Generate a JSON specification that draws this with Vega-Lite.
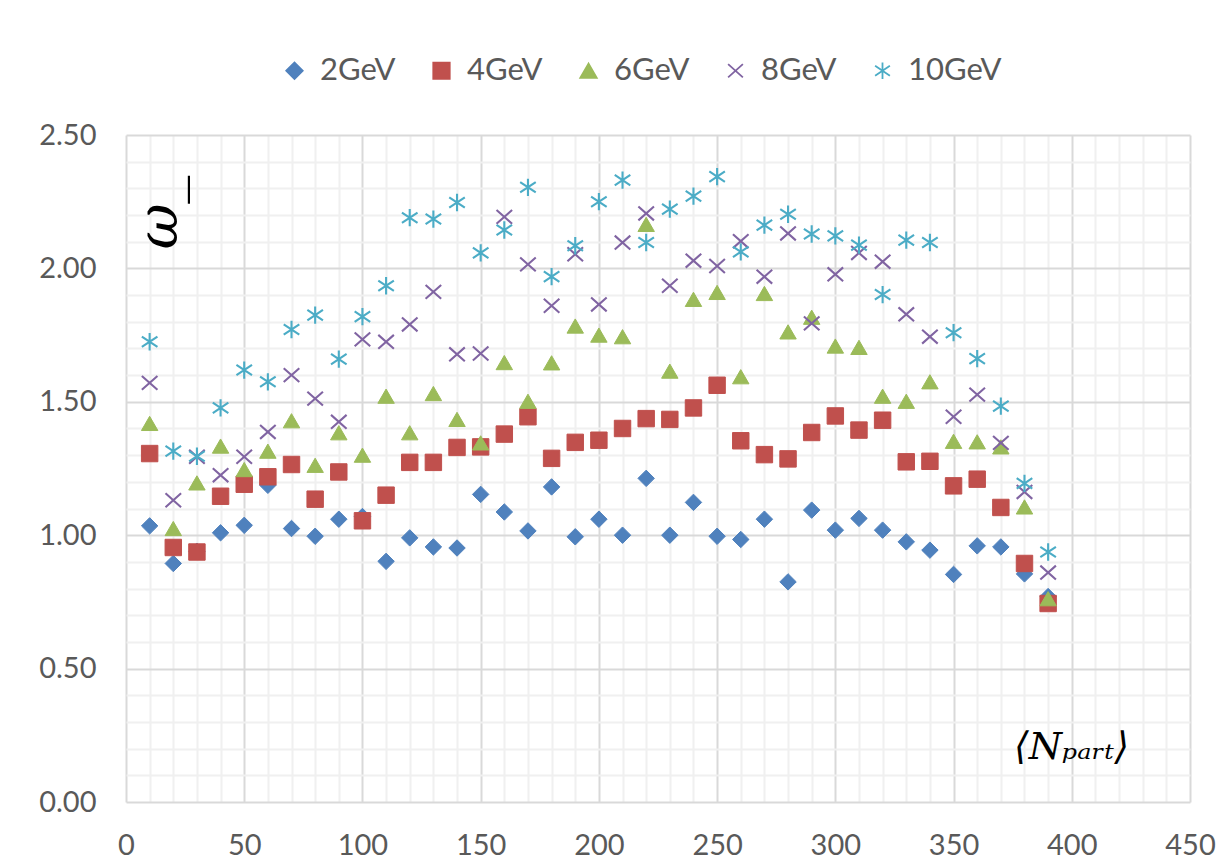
{
  "$schema": "https://vega.github.io/schema/vega-lite/v6.json",
  "width": 1064,
  "height": 667,
  "autosize": "none",
  "padding": {"left": 126, "top": 135, "right": 41, "bottom": 64},
  "background": "white",
  "config": {"view": {"stroke": null}, "font": "Lato"},
  "data": {
    "values": [
      {"n": 10, "2GeV": 1.035, "4GeV": 1.306, "6GeV": 1.419, "8GeV": 1.571, "10GeV": 1.725},
      {"n": 20, "2GeV": 0.894, "4GeV": 0.954, "6GeV": 1.025, "8GeV": 1.131, "10GeV": 1.315},
      {"n": 30, "2GeV": 0.94, "4GeV": 0.937, "6GeV": 1.196, "8GeV": 1.294, "10GeV": 1.296},
      {"n": 40, "2GeV": 1.009, "4GeV": 1.146, "6GeV": 1.334, "8GeV": 1.225, "10GeV": 1.477},
      {"n": 50, "2GeV": 1.037, "4GeV": 1.191, "6GeV": 1.246, "8GeV": 1.294, "10GeV": 1.619},
      {"n": 60, "2GeV": 1.187, "4GeV": 1.219, "6GeV": 1.315, "8GeV": 1.387, "10GeV": 1.575},
      {"n": 70, "2GeV": 1.025, "4GeV": 1.265, "6GeV": 1.429, "8GeV": 1.6, "10GeV": 1.771},
      {"n": 80, "2GeV": 0.996, "4GeV": 1.135, "6GeV": 1.262, "8GeV": 1.512, "10GeV": 1.825},
      {"n": 90, "2GeV": 1.06, "4GeV": 1.237, "6GeV": 1.384, "8GeV": 1.425, "10GeV": 1.66},
      {"n": 100, "2GeV": 1.07, "4GeV": 1.054, "6GeV": 1.3, "8GeV": 1.734, "10GeV": 1.819},
      {"n": 110, "2GeV": 0.902, "4GeV": 1.15, "6GeV": 1.521, "8GeV": 1.725, "10GeV": 1.935},
      {"n": 120, "2GeV": 0.99, "4GeV": 1.273, "6GeV": 1.384, "8GeV": 1.79, "10GeV": 2.19},
      {"n": 130, "2GeV": 0.956, "4GeV": 1.273, "6GeV": 1.531, "8GeV": 1.912, "10GeV": 2.185},
      {"n": 140, "2GeV": 0.952, "4GeV": 1.329, "6GeV": 1.434, "8GeV": 1.678, "10GeV": 2.247},
      {"n": 150, "2GeV": 1.153, "4GeV": 1.331, "6GeV": 1.346, "8GeV": 1.681, "10GeV": 2.058},
      {"n": 160, "2GeV": 1.087, "4GeV": 1.379, "6GeV": 1.647, "8GeV": 2.193, "10GeV": 2.144},
      {"n": 170, "2GeV": 1.016, "4GeV": 1.444, "6GeV": 1.502, "8GeV": 2.015, "10GeV": 2.304},
      {"n": 180, "2GeV": 1.181, "4GeV": 1.288, "6GeV": 1.646, "8GeV": 1.86, "10GeV": 1.969},
      {"n": 190, "2GeV": 0.994, "4GeV": 1.348, "6GeV": 1.784, "8GeV": 2.053, "10GeV": 2.085},
      {"n": 200, "2GeV": 1.06, "4GeV": 1.356, "6GeV": 1.75, "8GeV": 1.865, "10GeV": 2.25},
      {"n": 210, "2GeV": 1.0, "4GeV": 1.4, "6GeV": 1.744, "8GeV": 2.097, "10GeV": 2.331},
      {"n": 220, "2GeV": 1.213, "4GeV": 1.437, "6GeV": 2.165, "8GeV": 2.206, "10GeV": 2.097},
      {"n": 230, "2GeV": 1.0, "4GeV": 1.434, "6GeV": 1.615, "8GeV": 1.935, "10GeV": 2.222},
      {"n": 240, "2GeV": 1.123, "4GeV": 1.477, "6GeV": 1.884, "8GeV": 2.029, "10GeV": 2.271},
      {"n": 250, "2GeV": 0.996, "4GeV": 1.562, "6GeV": 1.91, "8GeV": 2.009, "10GeV": 2.344},
      {"n": 260, "2GeV": 0.984, "4GeV": 1.354, "6GeV": 1.594, "8GeV": 2.102, "10GeV": 2.062},
      {"n": 270, "2GeV": 1.06, "4GeV": 1.302, "6GeV": 1.906, "8GeV": 1.969, "10GeV": 2.162},
      {"n": 280, "2GeV": 0.825, "4GeV": 1.286, "6GeV": 1.762, "8GeV": 2.131, "10GeV": 2.203},
      {"n": 290, "2GeV": 1.094, "4GeV": 1.385, "6GeV": 1.817, "8GeV": 1.794, "10GeV": 2.129},
      {"n": 300, "2GeV": 1.019, "4GeV": 1.447, "6GeV": 1.709, "8GeV": 1.978, "10GeV": 2.122},
      {"n": 310, "2GeV": 1.063, "4GeV": 1.394, "6GeV": 1.704, "8GeV": 2.058, "10GeV": 2.087},
      {"n": 320, "2GeV": 1.019, "4GeV": 1.431, "6GeV": 1.521, "8GeV": 2.025, "10GeV": 1.902},
      {"n": 330, "2GeV": 0.975, "4GeV": 1.275, "6GeV": 1.502, "8GeV": 1.828, "10GeV": 2.106},
      {"n": 340, "2GeV": 0.944, "4GeV": 1.277, "6GeV": 1.575, "8GeV": 1.744, "10GeV": 2.097},
      {"n": 350, "2GeV": 0.853, "4GeV": 1.185, "6GeV": 1.352, "8GeV": 1.444, "10GeV": 1.759},
      {"n": 360, "2GeV": 0.96, "4GeV": 1.21, "6GeV": 1.35, "8GeV": 1.527, "10GeV": 1.662},
      {"n": 370, "2GeV": 0.956, "4GeV": 1.104, "6GeV": 1.331, "8GeV": 1.346, "10GeV": 1.484},
      {"n": 380, "2GeV": 0.855, "4GeV": 0.894, "6GeV": 1.106, "8GeV": 1.162, "10GeV": 1.194},
      {"n": 390, "2GeV": 0.77, "4GeV": 0.744, "6GeV": 0.762, "8GeV": 0.86, "10GeV": 0.937}
    ]
  },
  "transform": [
    {"fold": ["2GeV", "4GeV", "6GeV", "8GeV", "10GeV"], "as": ["series", "w"]}
  ],
  "encoding": {
    "x": {
      "field": "n",
      "type": "quantitative",
      "scale": {"domain": [0, 450], "nice": false},
      "axis": {
        "values": [0,10,20,30,40,50,60,70,80,90,100,110,120,130,140,150,160,170,180,190,200,210,220,230,240,250,260,270,280,290,300,310,320,330,340,350,360,370,380,390,400,410,420,430,440,450],
        "labelExpr": "datum.value % 50 === 0 ? datum.label : ''",
        "format": "d",
        "domain": false,
        "ticks": false,
        "tickSize": 0,
        "labelPadding": 29,
        "labelFont": "Lato",
        "labelFontSize": 29,
        "labelColor": "#595959",
        "labelFlush": false,
        "labelOverlap": false,
        "grid": true,
        "gridColor": {"condition": {"test": "datum.value % 50 === 0", "value": "#d9d9d9"}, "value": "#f0f0f0"},
        "gridWidth": 2,
        "title": "⟨Nₚₐᵣₜ⟩",
        "titleFont": "DejaVu Serif",
        "titleFontStyle": "italic",
        "titleFontWeight": "normal",
        "titleFontSize": 38,
        "titleColor": "#000000",
        "titleX": 945,
        "titleY": -44,
        "titleAlign": "center",
        "titleBaseline": "alphabetic"
      }
    },
    "y": {
      "field": "w",
      "type": "quantitative",
      "scale": {"domain": [0, 2.5], "nice": false},
      "axis": {
        "values": [0,0.1,0.2,0.3,0.4,0.5,0.6,0.7,0.8,0.9,1.0,1.1,1.2,1.3,1.4,1.5,1.6,1.7,1.8,1.9,2.0,2.1,2.2,2.3,2.4,2.5],
        "labelExpr": "round(datum.value*10) % 5 === 0 ? format(datum.value, '.2f') : ''",
        "domain": false,
        "ticks": false,
        "tickSize": 0,
        "labelPadding": 30,
        "labelFont": "Lato",
        "labelFontSize": 29,
        "labelColor": "#595959",
        "labelFlush": false,
        "labelOverlap": false,
        "grid": true,
        "gridColor": {"condition": {"test": "round(datum.value*10) % 5 === 0", "value": "#d9d9d9"}, "value": "#f0f0f0"},
        "gridWidth": 2,
        "title": "ω_",
        "titleFont": "DejaVu Serif",
        "titleFontStyle": "italic",
        "titleFontWeight": "normal",
        "titleFontSize": 56,
        "titleColor": "#000000",
        "titleAngle": -90,
        "titleX": 50,
        "titleY": 77,
        "titleAlign": "center",
        "titleBaseline": "alphabetic"
      }
    },
    "shape": {
      "field": "series",
      "type": "nominal",
      "sort": ["2GeV", "4GeV", "6GeV", "8GeV", "10GeV"],
      "scale": {
        "domain": ["2GeV", "4GeV", "6GeV", "8GeV", "10GeV"],
        "range": ["diamond", "square", "triangle-up", "M-0.9,-0.8L0.9,0.8M-0.9,0.8L0.9,-0.8", "M0,-1L0,1M-0.9,-0.6L0.9,0.6M-0.9,0.6L0.9,-0.6"]
      },
      "legend": {
        "title": null,
        "orient": "none",
        "legendX": 153,
        "legendY": -80,
        "direction": "horizontal",
        "labelFont": "Lato",
        "labelFontSize": 31,
        "labelColor": "#595959",
        "symbolSize": 270,
        "symbolStrokeWidth": 1.8,
        "labelOffset": 10,
        "columnPadding": 30,
        "padding": 0
      }
    },
    "fill": {
      "field": "series",
      "type": "nominal",
      "sort": ["2GeV", "4GeV", "6GeV", "8GeV", "10GeV"],
      "scale": {
        "domain": ["2GeV", "4GeV", "6GeV", "8GeV", "10GeV"],
        "range": ["#4F81BD", "#C0504D", "#9BBB59", "transparent", "transparent"]
      },
      "legend": {
        "title": null,
        "orient": "none",
        "legendX": 153,
        "legendY": -80,
        "direction": "horizontal",
        "labelFont": "Lato",
        "labelFontSize": 31,
        "labelColor": "#595959",
        "symbolSize": 270,
        "symbolStrokeWidth": 1.8,
        "labelOffset": 10,
        "columnPadding": 30,
        "padding": 0
      }
    },
    "stroke": {
      "field": "series",
      "type": "nominal",
      "sort": ["2GeV", "4GeV", "6GeV", "8GeV", "10GeV"],
      "scale": {
        "domain": ["2GeV", "4GeV", "6GeV", "8GeV", "10GeV"],
        "range": ["#4F81BD", "#C0504D", "#9BBB59", "#8064A2", "#4BACC6"]
      },
      "legend": {
        "title": null,
        "orient": "none",
        "legendX": 153,
        "legendY": -80,
        "direction": "horizontal",
        "labelFont": "Lato",
        "labelFontSize": 31,
        "labelColor": "#595959",
        "symbolSize": 270,
        "symbolStrokeWidth": 1.8,
        "labelOffset": 10,
        "columnPadding": 30,
        "padding": 0
      }
    }
  },
  "layer": [
    {
      "transform": [{"filter": "datum.series === '2GeV' || datum.series === '4GeV' || datum.series === '6GeV'"}],
      "mark": {"type": "point", "filled": true, "opacity": 1, "size": 270, "strokeWidth": 1}
    },
    {
      "transform": [{"filter": "datum.series === '8GeV' || datum.series === '10GeV'"}],
      "mark": {"type": "point", "filled": true, "opacity": 1, "size": 300, "strokeWidth": 2.1}
    }
  ]
}
